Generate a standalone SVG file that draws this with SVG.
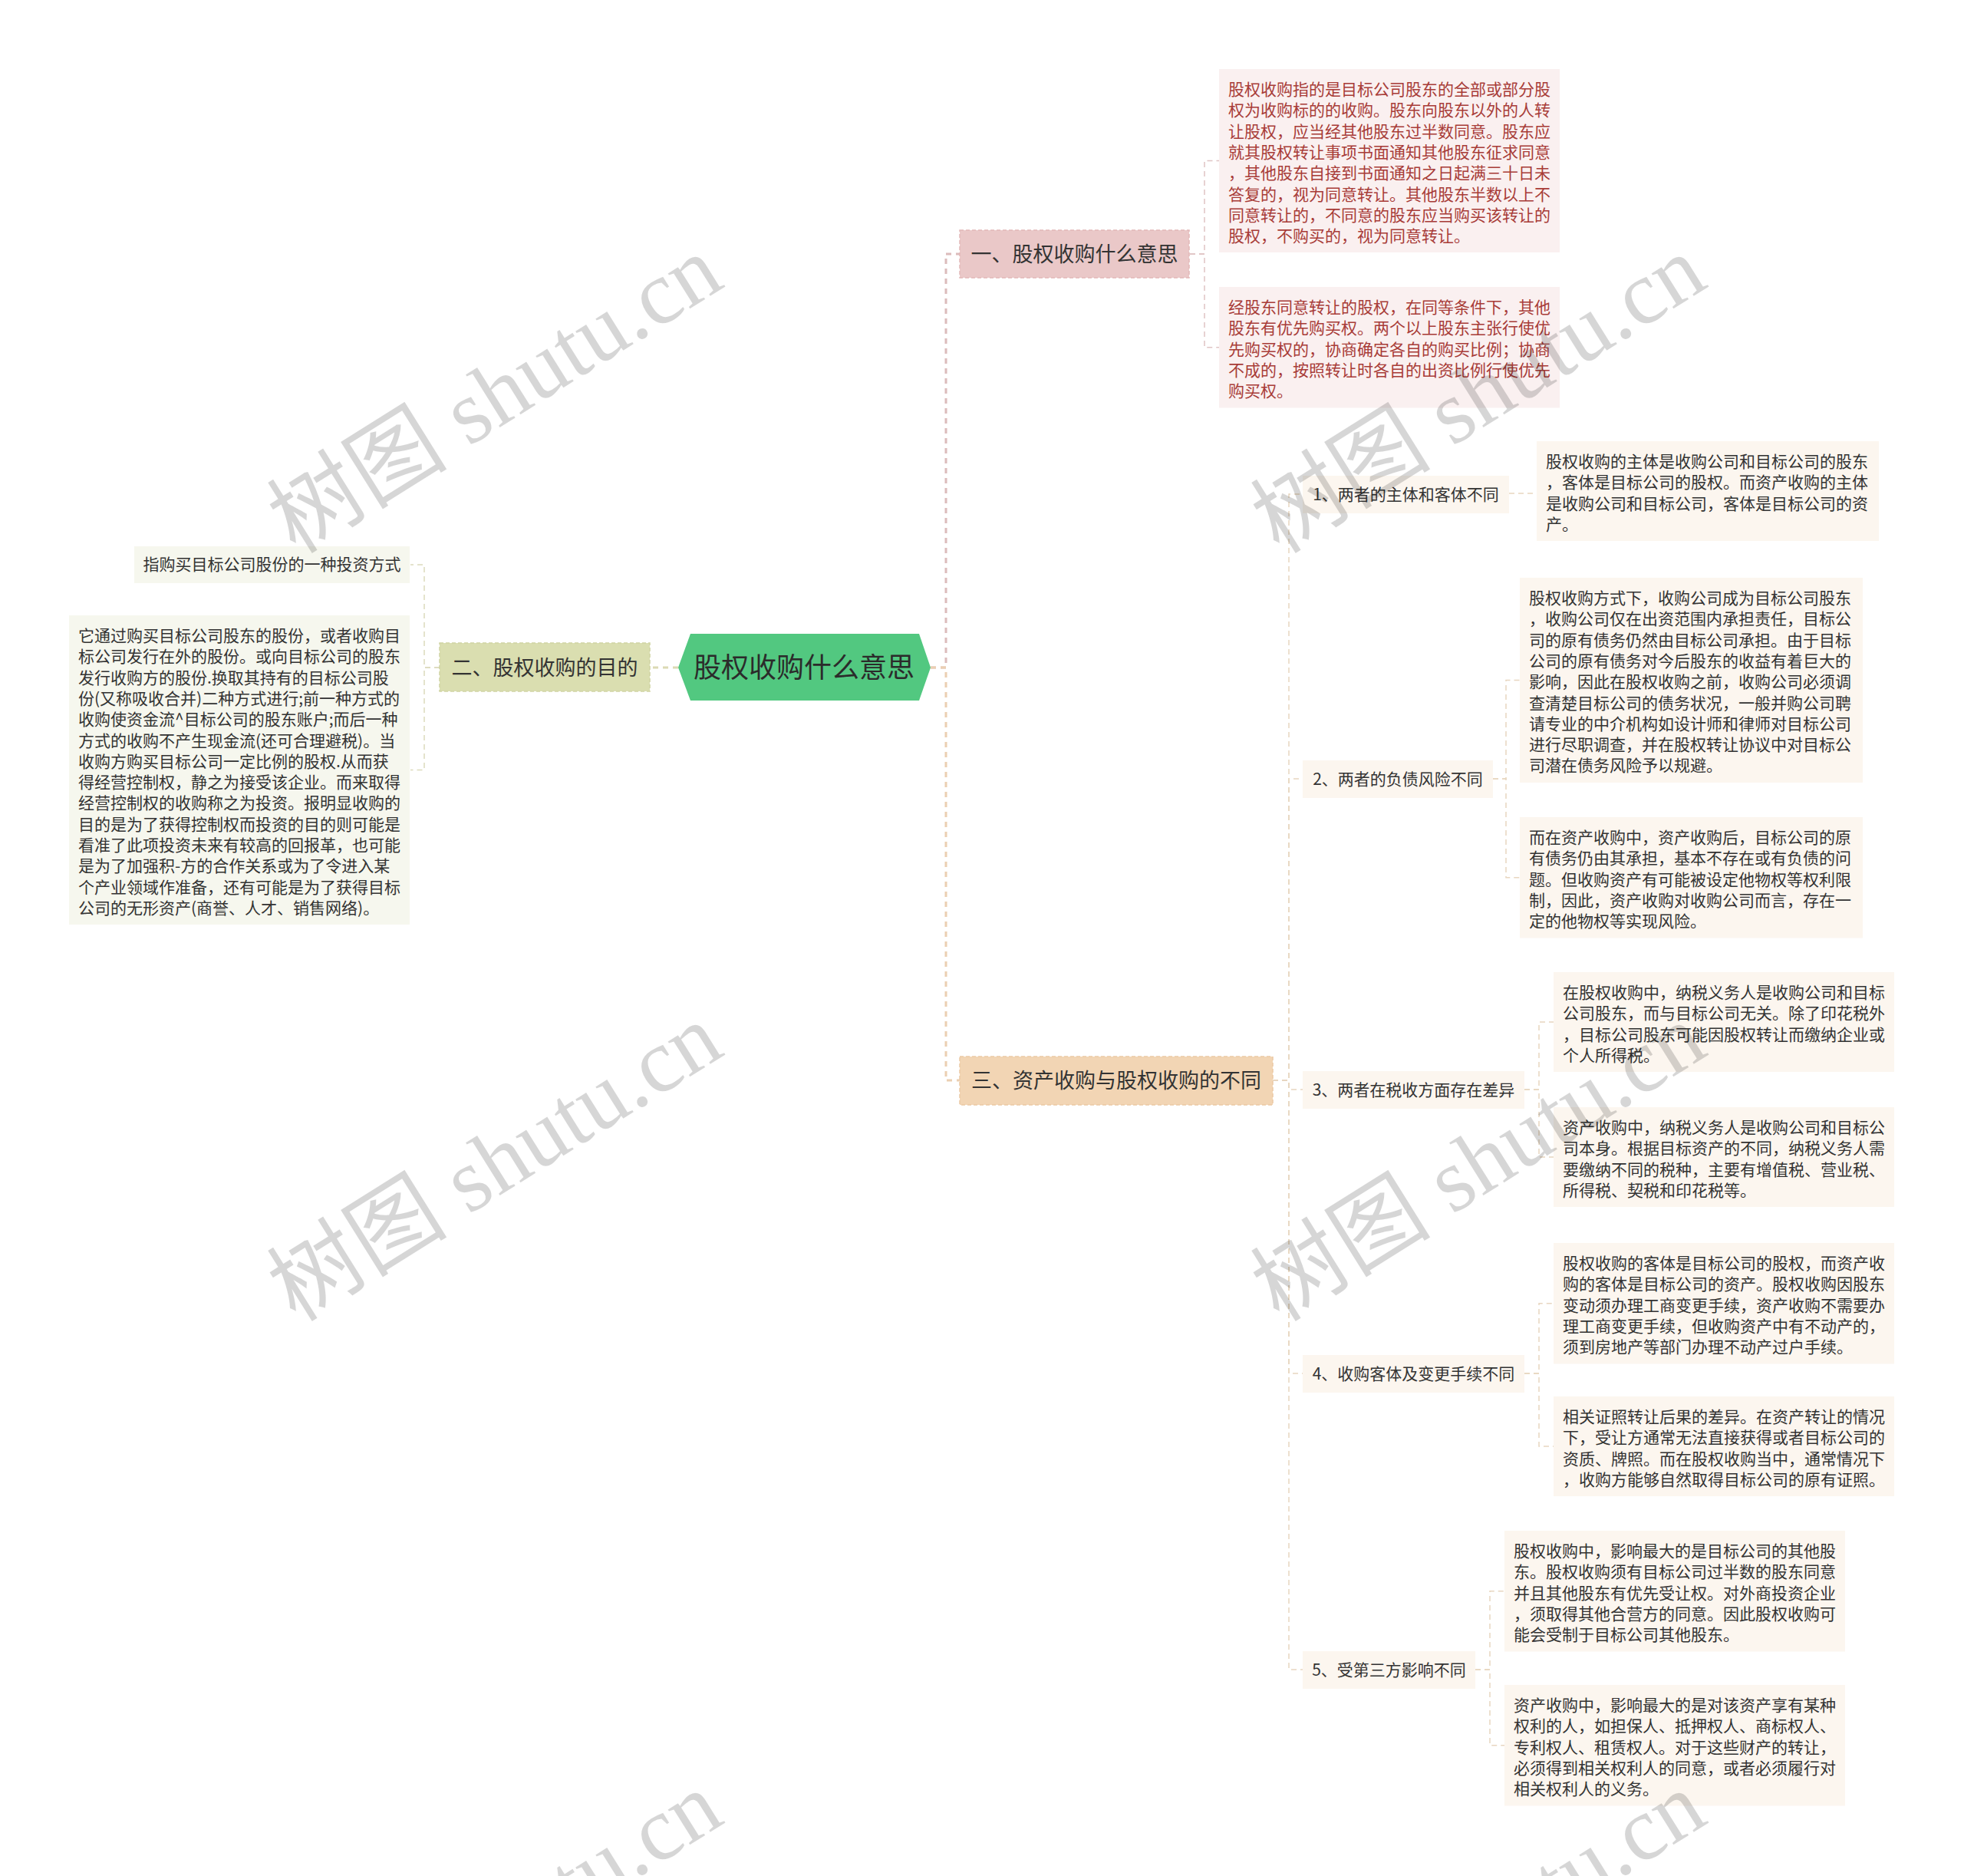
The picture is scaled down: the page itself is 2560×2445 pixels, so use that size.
<svg xmlns="http://www.w3.org/2000/svg" width="2560" height="2445" viewBox="0 0 2560 2445">
<style>
text{font-family:"Noto Sans CJK SC","Noto Sans",sans-serif;}
.t21{font-size:21px;fill:#333;}
.red{font-size:21px;fill:#a83c38;}
.n27{font-size:27px;fill:#333;}
.c{text-anchor:middle;}
.lp{fill:#faf0f0;}
.lo{fill:#f6f7ee;}
.lq{fill:#fcf6ef;}
.cp{fill:none;stroke:#dcbcbc;stroke-width:3;stroke-dasharray:7 6;}
.co{fill:none;stroke:#dcdab4;stroke-width:3;stroke-dasharray:7 6;}
.cq{fill:none;stroke:#ebcfb2;stroke-width:3;stroke-dasharray:7 6;}
.sp{fill:none;stroke:#dfc4c4;stroke-width:1.5;stroke-dasharray:7 5;}
.so{fill:none;stroke:#dcdabc;stroke-width:1.5;stroke-dasharray:7 5;}
.sq{fill:none;stroke:#e8d6c0;stroke-width:1.5;stroke-dasharray:7 5;}
.wm{font-family:"Liberation Serif","Noto Sans CJK SC",serif;font-size:118px;fill:#000;fill-opacity:0.16;text-anchor:middle;}
</style>
<rect width="2560" height="2445" fill="#ffffff"/>

<g id="connectors">
  <path class="cp" d="M1213,870 H1233 V331 H1251"/>
  <path class="cq" d="M1213,870 H1233 V1408 H1251"/>
  <path class="co" d="M884,870 H847"/>
  <path class="sp" d="M1551,331 H1570 V209.5 H1589"/>
  <path class="sp" d="M1551,331 H1570 V452.75 H1589"/>
  <path class="so" d="M573,870 H553 V736 H535"/>
  <path class="so" d="M573,870 H553 V1003.5 H535"/>
  <path class="sq" d="M1659,1408 H1680 V644 H1698"/>
  <path class="sq" d="M1659,1408 H1680 V1015 H1698"/>
  <path class="sq" d="M1659,1408 H1680 V1420 H1698"/>
  <path class="sq" d="M1659,1408 H1680 V1790 H1698"/>
  <path class="sq" d="M1659,1408 H1680 V2176 H1698"/>
  <path class="sq" d="M1967,643 H2003"/>
  <path class="sq" d="M1946,1015 H1963 V886.5 H1981"/>
  <path class="sq" d="M1946,1015 H1963 V1143.75 H1981"/>
  <path class="sq" d="M1987,1420 H2006 V1332 H2025"/>
  <path class="sq" d="M1987,1420 H2006 V1508 H2025"/>
  <path class="sq" d="M1987,1790 H2006 V1698.75 H2025"/>
  <path class="sq" d="M1987,1790 H2006 V1885 H2025"/>
  <path class="sq" d="M1923,2176 H1942 V2073.75 H1961"/>
  <path class="sq" d="M1923,2176 H1942 V2274.75 H1961"/>
</g>

<g id="root">
  <polygon points="884,870 900,826 1198,826 1213,870 1198,913 900,913" fill="#52c880"/>
  <text x="1048" y="883" class="c" style="font-size:36px;fill:#2b2b2b">股权收购什么意思</text>
</g>

<g id="n1">
  <rect x="1251" y="300" width="299" height="62" fill="#eac8c8" stroke="#e2b8b8" stroke-width="1.5" stroke-dasharray="5 3"/>
  <text x="1400.5" y="341" class="n27 c">一、股权收购什么意思</text>
</g>
<g id="n1-leaf1">
  <rect x="1589" y="90" width="444" height="239" class="lp"/>
  <text class="red" x="1601" y="124"><tspan x="1601">股权收购指的是目标公司股东的全部或部分股</tspan><tspan x="1601" dy="27.3">权为收购标的的收购。股东向股东以外的人转</tspan><tspan x="1601" dy="27.3">让股权，应当经其他股东过半数同意。股东应</tspan><tspan x="1601" dy="27.3">就其股权转让事项书面通知其他股东征求同意</tspan><tspan x="1601" dy="27.3">，其他股东自接到书面通知之日起满三十日未</tspan><tspan x="1601" dy="27.3">答复的，视为同意转让。其他股东半数以上不</tspan><tspan x="1601" dy="27.3">同意转让的，不同意的股东应当购买该转让的</tspan><tspan x="1601" dy="27.3">股权，不购买的，视为同意转让。</tspan></text>
</g>
<g id="n1-leaf2">
  <rect x="1589" y="374" width="444" height="157.5" class="lp"/>
  <text class="red" x="1601" y="408"><tspan x="1601">经股东同意转让的股权，在同等条件下，其他</tspan><tspan x="1601" dy="27.3">股东有优先购买权。两个以上股东主张行使优</tspan><tspan x="1601" dy="27.3">先购买权的，协商确定各自的购买比例；协商</tspan><tspan x="1601" dy="27.3">不成的，按照转让时各自的出资比例行使优先</tspan><tspan x="1601" dy="27.3">购买权。</tspan></text>
</g>

<g id="n2">
  <rect x="573" y="838" width="274" height="63" fill="#dadeb0" stroke="#d0d4a2" stroke-width="1.5" stroke-dasharray="5 3"/>
  <text x="710" y="880" class="n27 c">二、股权收购的目的</text>
</g>
<g id="n2-leaf1">
  <rect x="175" y="712" width="359" height="48" class="lo"/>
  <text class="t21 c" x="354.5" y="743">指购买目标公司股份的一种投资方式</text>
</g>
<g id="n2-leaf2">
  <rect x="90" y="802" width="444" height="403" class="lo"/>
  <text class="t21" x="102" y="836"><tspan x="102">它通过购买目标公司股东的股份，或者收购目</tspan><tspan x="102" dy="27.3">标公司发行在外的股份。或向目标公司的股东</tspan><tspan x="102" dy="27.3">发行收购方的股份.换取其持有的目标公司股</tspan><tspan x="102" dy="27.3">份(又称吸收合并)二种方式进行;前一种方式的</tspan><tspan x="102" dy="27.3">收购使资金流^目标公司的股东账户;而后一种</tspan><tspan x="102" dy="27.3">方式的收购不产生现金流(还可合理避税)。当</tspan><tspan x="102" dy="27.3">收购方购买目标公司一定比例的股权.从而获</tspan><tspan x="102" dy="27.3">得经营控制权，静之为接受该企业。而来取得</tspan><tspan x="102" dy="27.3">经营控制权的收购称之为投资。报明显收购的</tspan><tspan x="102" dy="27.3">目的是为了获得控制权而投资的目的则可能是</tspan><tspan x="102" dy="27.3">看准了此项投资未来有较高的回报革，也可能</tspan><tspan x="102" dy="27.3">是为了加强积-方的合作关系或为了令进入某</tspan><tspan x="102" dy="27.3">个产业领域作准备，还有可能是为了获得目标</tspan><tspan x="102" dy="27.3">公司的无形资产(商誉、人才、销售网络)。</tspan></text>
</g>

<g id="n3">
  <rect x="1251" y="1377" width="408" height="63" fill="#f2d5b4" stroke="#ebc9a4" stroke-width="1.5" stroke-dasharray="5 3"/>
  <text x="1455" y="1418" class="n27 c">三、资产收购与股权收购的不同</text>
</g>

<g id="s1">
  <rect x="1698" y="620" width="269" height="49" class="lq"/>
  <text class="t21 c" x="1832.5" y="652">1、两者的主体和客体不同</text>
</g>
<g id="s1-leaf">
  <rect x="2003" y="575" width="446" height="130" class="lq"/>
  <text class="t21" x="2015" y="609"><tspan x="2015">股权收购的主体是收购公司和目标公司的股东</tspan><tspan x="2015" dy="27.3">，客体是目标公司的股权。而资产收购的主体</tspan><tspan x="2015" dy="27.3">是收购公司和目标公司，客体是目标公司的资</tspan><tspan x="2015" dy="27.3">产。</tspan></text>
</g>

<g id="s2">
  <rect x="1698" y="991" width="248" height="49" class="lq"/>
  <text class="t21 c" x="1822" y="1023">2、两者的负债风险不同</text>
</g>
<g id="s2-leaf1">
  <rect x="1981" y="753" width="447" height="267" class="lq"/>
  <text class="t21" x="1993" y="787"><tspan x="1993">股权收购方式下，收购公司成为目标公司股东</tspan><tspan x="1993" dy="27.3">，收购公司仅在出资范围内承担责任，目标公</tspan><tspan x="1993" dy="27.3">司的原有债务仍然由目标公司承担。由于目标</tspan><tspan x="1993" dy="27.3">公司的原有债务对今后股东的收益有着巨大的</tspan><tspan x="1993" dy="27.3">影响，因此在股权收购之前，收购公司必须调</tspan><tspan x="1993" dy="27.3">查清楚目标公司的债务状况，一般并购公司聘</tspan><tspan x="1993" dy="27.3">请专业的中介机构如设计师和律师对目标公司</tspan><tspan x="1993" dy="27.3">进行尽职调查，并在股权转让协议中对目标公</tspan><tspan x="1993" dy="27.3">司潜在债务风险予以规避。</tspan></text>
</g>
<g id="s2-leaf2">
  <rect x="1981" y="1065" width="447" height="157.5" class="lq"/>
  <text class="t21" x="1993" y="1099"><tspan x="1993">而在资产收购中，资产收购后，目标公司的原</tspan><tspan x="1993" dy="27.3">有债务仍由其承担，基本不存在或有负债的问</tspan><tspan x="1993" dy="27.3">题。但收购资产有可能被设定他物权等权利限</tspan><tspan x="1993" dy="27.3">制，因此，资产收购对收购公司而言，存在一</tspan><tspan x="1993" dy="27.3">定的他物权等实现风险。</tspan></text>
</g>

<g id="s3">
  <rect x="1698" y="1396" width="289" height="49" class="lq"/>
  <text class="t21 c" x="1842.5" y="1428">3、两者在税收方面存在差异</text>
</g>
<g id="s3-leaf1">
  <rect x="2025" y="1267" width="444" height="130" class="lq"/>
  <text class="t21" x="2037" y="1301"><tspan x="2037">在股权收购中，纳税义务人是收购公司和目标</tspan><tspan x="2037" dy="27.3">公司股东，而与目标公司无关。除了印花税外</tspan><tspan x="2037" dy="27.3">，目标公司股东可能因股权转让而缴纳企业或</tspan><tspan x="2037" dy="27.3">个人所得税。</tspan></text>
</g>
<g id="s3-leaf2">
  <rect x="2025" y="1443" width="444" height="130" class="lq"/>
  <text class="t21" x="2037" y="1477"><tspan x="2037">资产收购中，纳税义务人是收购公司和目标公</tspan><tspan x="2037" dy="27.3">司本身。根据目标资产的不同，纳税义务人需</tspan><tspan x="2037" dy="27.3">要缴纳不同的税种，主要有增值税、营业税、</tspan><tspan x="2037" dy="27.3">所得税、契税和印花税等。</tspan></text>
</g>

<g id="s4">
  <rect x="1698" y="1766" width="289" height="49" class="lq"/>
  <text class="t21 c" x="1842.5" y="1798">4、收购客体及变更手续不同</text>
</g>
<g id="s4-leaf1">
  <rect x="2025" y="1620" width="444" height="157.5" class="lq"/>
  <text class="t21" x="2037" y="1654"><tspan x="2037">股权收购的客体是目标公司的股权，而资产收</tspan><tspan x="2037" dy="27.3">购的客体是目标公司的资产。股权收购因股东</tspan><tspan x="2037" dy="27.3">变动须办理工商变更手续，资产收购不需要办</tspan><tspan x="2037" dy="27.3">理工商变更手续，但收购资产中有不动产的，</tspan><tspan x="2037" dy="27.3">须到房地产等部门办理不动产过户手续。</tspan></text>
</g>
<g id="s4-leaf2">
  <rect x="2025" y="1820" width="444" height="130" class="lq"/>
  <text class="t21" x="2037" y="1854"><tspan x="2037">相关证照转让后果的差异。在资产转让的情况</tspan><tspan x="2037" dy="27.3">下，受让方通常无法直接获得或者目标公司的</tspan><tspan x="2037" dy="27.3">资质、牌照。而在股权收购当中，通常情况下</tspan><tspan x="2037" dy="27.3">，收购方能够自然取得目标公司的原有证照。</tspan></text>
</g>

<g id="s5">
  <rect x="1698" y="2152" width="225" height="49" class="lq"/>
  <text class="t21 c" x="1810.5" y="2184">5、受第三方影响不同</text>
</g>
<g id="s5-leaf1">
  <rect x="1961" y="1995" width="444" height="157.5" class="lq"/>
  <text class="t21" x="1973" y="2029"><tspan x="1973">股权收购中，影响最大的是目标公司的其他股</tspan><tspan x="1973" dy="27.3">东。股权收购须有目标公司过半数的股东同意</tspan><tspan x="1973" dy="27.3">并且其他股东有优先受让权。对外商投资企业</tspan><tspan x="1973" dy="27.3">，须取得其他合营方的同意。因此股权收购可</tspan><tspan x="1973" dy="27.3">能会受制于目标公司其他股东。</tspan></text>
</g>
<g id="s5-leaf2">
  <rect x="1961" y="2196" width="444" height="157.5" class="lq"/>
  <text class="t21" x="1973" y="2230"><tspan x="1973">资产收购中，影响最大的是对该资产享有某种</tspan><tspan x="1973" dy="27.3">权利的人，如担保人、抵押权人、商标权人、</tspan><tspan x="1973" dy="27.3">专利权人、租赁权人。对于这些财产的转让，</tspan><tspan x="1973" dy="27.3">必须得到相关权利人的同意，或者必须履行对</tspan><tspan x="1973" dy="27.3">相关权利人的义务。</tspan></text>
</g>

<g id="watermarks">
  <text class="wm" transform="translate(645,514) rotate(-32)" y="40">树图 shutu.cn</text>
  <text class="wm" transform="translate(1927,514) rotate(-32)" y="40">树图 shutu.cn</text>
  <text class="wm" transform="translate(645,1515) rotate(-32)" y="40">树图 shutu.cn</text>
  <text class="wm" transform="translate(1927,1515) rotate(-32)" y="40">树图 shutu.cn</text>
  <text class="wm" transform="translate(645,2516) rotate(-32)" y="40">树图 shutu.cn</text>
  <text class="wm" transform="translate(1927,2516) rotate(-32)" y="40">树图 shutu.cn</text>
</g>
</svg>
